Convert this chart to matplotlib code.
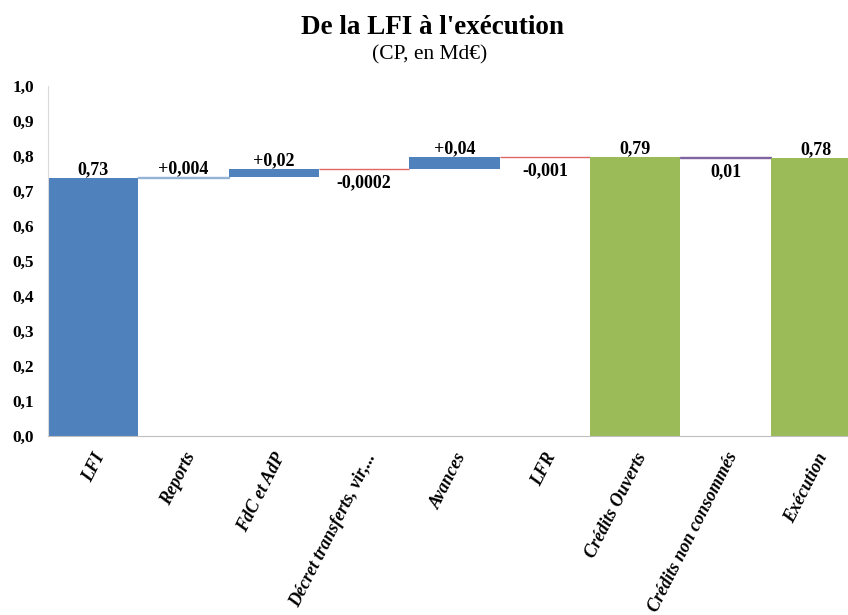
import matplotlib.pyplot as plt
from matplotlib.ticker import FuncFormatter

categories = ["LFI", "Reports", "FdC et AdP", "Décret transferts, vir,...", "Avances",
              "LFR", "Crédits Ouverts", "Crédits non consommés", "Exécution"]
# bar bottoms and heights (Md€)
bottoms = [0.0, 0.736, 0.740, 0.7618, 0.762, 0.797, 0.0, 0.793, 0.0]
heights = [0.736, 0.004, 0.022, 0.0002, 0.036, 0.001, 0.796, 0.003, 0.793]
value_labels = ["0,73", "+0,004", "+0,02", "-0,0002", "+0,04", "-0,001", "0,79", "0,01", "0,78"]
label_above = [True, True, True, False, True, False, True, False, True]

colors = ["#4F81BD", "#95B3D7", "#4F81BD", "#E06666", "#4F81BD",
          "#E06666", "#9BBB59", "#8064A2", "#9BBB59"]

plt.rcParams["font.family"] = ["Liberation Serif", "DejaVu Serif"]

fig = plt.figure(figsize=(8.48, 6.15), dpi=100)
ax = fig.add_axes([48 / 848, 179 / 615, 813 / 848, 350 / 615])

x = range(len(categories))
for i in x:
    h = heights[i]
    ax.bar(i, h, bottom=bottoms[i], width=1.0, color=colors[i],
           edgecolor=colors[i], linewidth=1.0 if h < 0.005 else 0.0)
    top = bottoms[i] + h
    if label_above[i]:
        ax.text(i, top + 0.024, value_labels[i], ha="center", va="center",
                fontsize=13, fontweight="bold")
    else:
        ax.text(i, bottoms[i] - 0.038, value_labels[i], ha="center", va="center",
                fontsize=13, fontweight="bold")

ax.set_xlim(-0.5, 8.5)
ax.set_ylim(0, 1.0)
ax.set_yticks([i / 10 for i in range(11)])
ax.yaxis.set_major_formatter(FuncFormatter(lambda v, p: f"{v:.1f}".replace(".", ",")))
ax.tick_params(axis="y", length=0, pad=10, labelsize=12.5)
for lbl in ax.get_yticklabels():
    lbl.set_fontweight("bold")

ax.set_xticks(list(x))
ax.set_xticklabels(categories, rotation=63, ha="right", va="top",
                   rotation_mode="anchor", fontsize=13, fontweight="bold",
                   fontstyle="italic")
ax.tick_params(axis="x", length=0, pad=10)

for s in ["top", "right"]:
    ax.spines[s].set_visible(False)
ax.spines["left"].set_color("#D9D9D9")
ax.spines["bottom"].set_color("#BFBFBF")

fig.text(0.51, 0.956, "De la LFI à l'exécution", ha="center", va="center",
         fontsize=19.5, fontweight="bold")
fig.text(0.507, 0.91, "(CP, en Md€)", ha="center", va="center", fontsize=15.5)

fig.savefig("out.png", dpi=100)
